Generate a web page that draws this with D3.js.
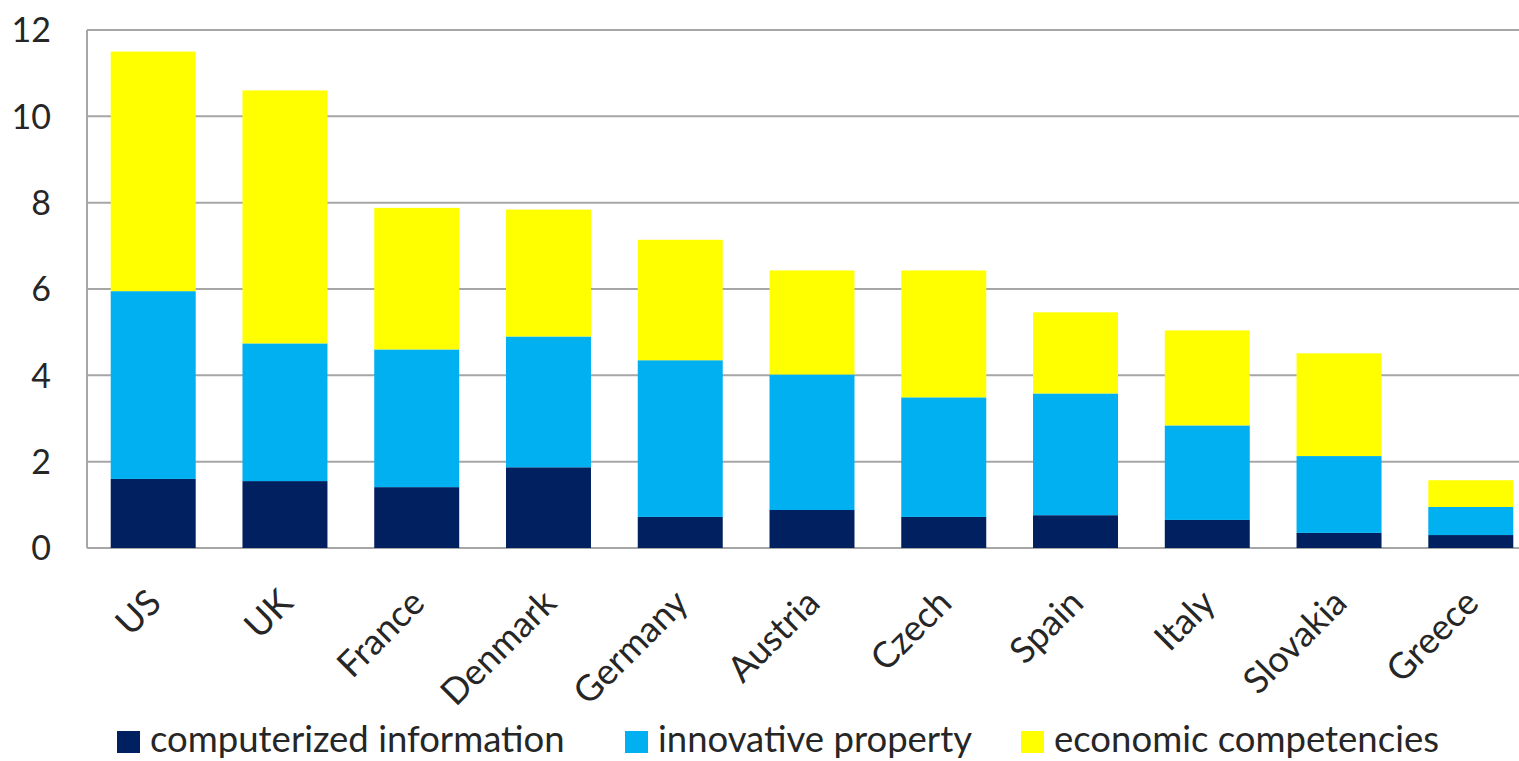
<!DOCTYPE html>
<html>
<head>
<meta charset="utf-8">
<script src="https://cdn.jsdelivr.net/npm/d3@7"></script>
<style>
  body { margin: 0; background: #fff; overflow: hidden; }
  text { font-family: Lato, "Open Sans", sans-serif; fill: #262626; }
</style>
</head>
<body>
<svg id="chart" width="1519" height="761"></svg>
<script>
// data
var countries = ["US", "UK", "France", "Denmark", "Germany", "Austria", "Czech", "Spain", "Italy", "Slovakia", "Greece"];
var computerized = [1.60, 1.55, 1.41, 1.87, 0.72, 0.88, 0.72, 0.76, 0.65, 0.35, 0.30];
var innovative   = [4.35, 3.19, 3.19, 3.03, 3.63, 3.14, 2.77, 2.82, 2.19, 1.78, 0.65];
var economic     = [5.55, 5.86, 3.28, 2.94, 2.79, 2.41, 2.94, 1.88, 2.20, 2.38, 0.62];
var seriesNames = ["computerized information", "innovative property", "economic competencies"];
var seriesColors = ["#002060", "#00B0F0", "#FFFF00"];
var yTicks = [0, 2, 4, 6, 8, 10, 12];

var svg = d3.select("#chart");
var plotLeft = 87, plotRight = 1537, plotTop = 30, plotBottom = 548;

var rows = countries.map(function(c, i) {
    return { country: c, s0: computerized[i], s1: innovative[i], s2: economic[i] };
});

var x = d3.scaleBand()
    .domain(countries)
    .range([plotLeft, plotRight])
    .paddingInner(0.355)
    .paddingOuter(0.18);

var y = d3.scaleLinear()
    .domain([0, 12])
    .range([plotBottom, plotTop]);

// gridlines
svg.append("g")
    .selectAll("line")
    .data(yTicks)
    .enter().append("line")
    .attr("x1", plotLeft)
    .attr("x2", plotRight)
    .attr("y1", function(d) { return y(d); })
    .attr("y2", function(d) { return y(d); })
    .attr("stroke", "#a6a6a6")
    .attr("stroke-width", 2);

svg.append("line")
    .attr("x1", plotLeft).attr("x2", plotLeft)
    .attr("y1", plotTop).attr("y2", plotBottom)
    .attr("stroke", "#a6a6a6")
    .attr("stroke-width", 2);

// y tick labels
svg.append("g")
    .selectAll("text")
    .data(yTicks)
    .enter().append("text")
    .attr("x", 51)
    .attr("y", function(d) { return y(d); })
    .attr("dy", "0.36em")
    .attr("text-anchor", "end")
    .style("font-size", "34px")
    .text(function(d) { return d; });

// stacked bars
var stack = d3.stack().keys(["s0", "s1", "s2"]);
var layers = stack(rows);

svg.append("g")
    .selectAll("g")
    .data(layers)
    .enter().append("g")
    .attr("fill", function(d, i) { return seriesColors[i]; })
    .selectAll("rect")
    .data(function(d) { return d; })
    .enter().append("rect")
    .attr("x", function(d) { return x(d.data.country); })
    .attr("width", x.bandwidth())
    .attr("y", function(d) { return y(d[1]); })
    .attr("height", function(d) { return y(d[0]) - y(d[1]); });

// category labels, rotated
svg.append("g")
    .selectAll("text")
    .data(countries)
    .enter().append("text")
    .attr("transform", function(d) {
        return "translate(" + (x(d) + x.bandwidth() / 2 + 10) + "," + 605 + ") rotate(-45)";
    })
    .attr("text-anchor", "end")
    .style("font-size", "36px")
    .text(function(d) { return d; });

// legend
var legendX = [117, 625, 1021];
var legend = svg.append("g");
seriesNames.forEach(function(name, i) {
    legend.append("rect")
        .attr("x", legendX[i])
        .attr("y", 731)
        .attr("width", 23)
        .attr("height", 22)
        .attr("fill", seriesColors[i]);
    legend.append("text")
        .attr("x", legendX[i] + 33)
        .attr("y", 752)
        .style("font-size", "36.5px")
        .text(name);
});
</script>
</body>
</html>
